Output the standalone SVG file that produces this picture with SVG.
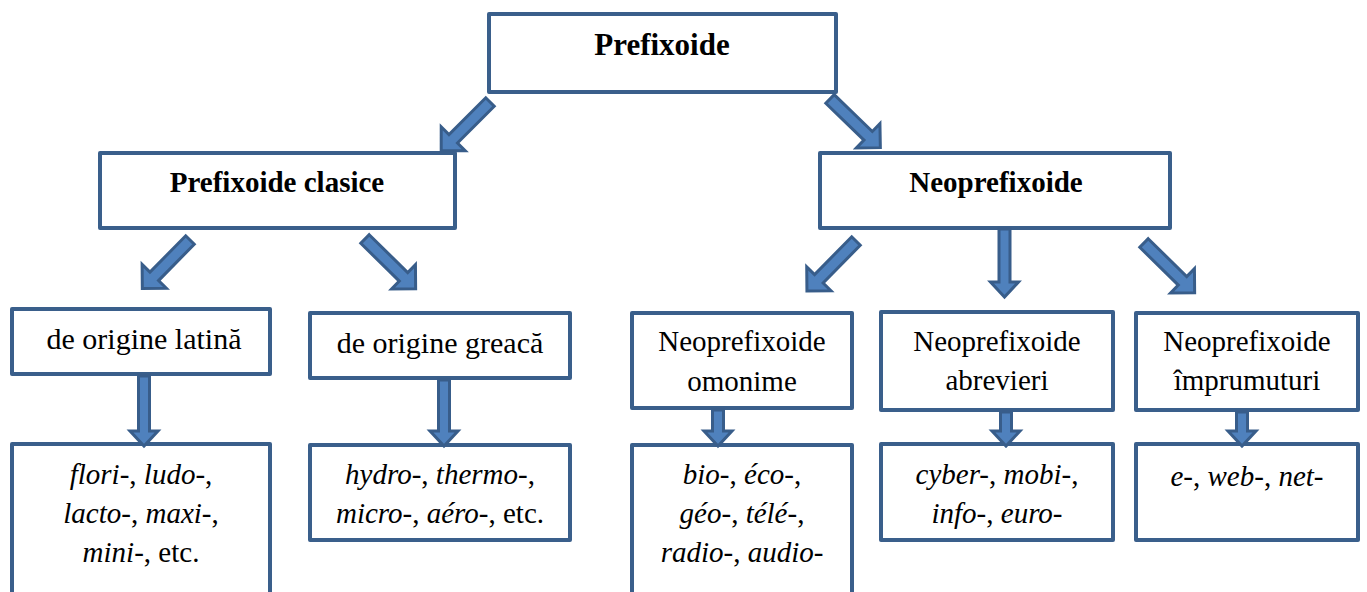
<svg xmlns="http://www.w3.org/2000/svg" width="1367" height="592" viewBox="0 0 1367 592">
<style>
.box{fill:#fff;stroke:#3A5F8B;stroke-width:4;stroke-linejoin:round}
.arr{fill:#4F81BD;stroke:#385D8A;stroke-width:3;stroke-linejoin:miter}
text{font-family:"Liberation Serif","Times New Roman",serif;font-size:29px;fill:#000;text-anchor:middle}
.b{font-weight:bold}
.i{font-style:italic}
.big{font-size:31px}
.m{font-size:30px}
</style>
<rect width="1367" height="592" fill="#fff"/>
<g id="n-prefixoide"><rect class="box" x="489" y="14" width="347" height="78"/><text class="b big" x="662" y="55">Prefixoide</text></g>
<g id="n-clasice"><rect class="box" x="100" y="153" width="355" height="75"/><text class="b" x="277" y="192">Prefixoide clasice</text></g>
<g id="n-neo"><rect class="box" x="820" y="153" width="350" height="75"/><text class="b" x="996" y="192">Neoprefixoide</text></g>
<g id="n-latina"><rect class="box" x="12" y="309" width="258" height="65"/><text class="m" x="144" y="349">de origine latină</text></g>
<g id="n-greaca"><rect class="box" x="310" y="313" width="260" height="65"/><text class="m" x="440" y="353">de origine greacă</text></g>
<g id="n-omonime"><rect class="box" x="632" y="313" width="220" height="95"/><text x="742" y="351">Neoprefixoide</text><text x="742" y="391">omonime</text></g>
<g id="n-abrevieri"><rect class="box" x="881" y="312" width="232" height="98"/><text x="997" y="351">Neoprefixoide</text><text x="997" y="390">abrevieri</text></g>
<g id="n-imprumuturi"><rect class="box" x="1136" y="313" width="222" height="97"/><text x="1247" y="351">Neoprefixoide</text><text x="1247" y="390">împrumuturi</text></g>
<g id="n-flori"><rect class="box" x="12" y="444" width="258" height="160"/><text x="141" y="484"><tspan class="i">flori-</tspan>, <tspan class="i">ludo-</tspan>,</text><text x="141" y="523"><tspan class="i">lacto-</tspan>, <tspan class="i">maxi-</tspan>,</text><text x="141" y="562"><tspan class="i">mini-</tspan>, etc.</text></g>
<g id="n-hydro"><rect class="box" x="310" y="445" width="260" height="95"/><text x="440" y="484"><tspan class="i">hydro-</tspan>, <tspan class="i">thermo-</tspan>,</text><text x="440" y="523"><tspan class="i">micro-</tspan>, <tspan class="i">aéro-</tspan>, etc.</text></g>
<g id="n-bio"><rect class="box" x="632" y="445" width="220" height="160"/><text x="742" y="484"><tspan class="i">bio-</tspan>, <tspan class="i">éco-</tspan>,</text><text x="742" y="523"><tspan class="i">géo-</tspan>, <tspan class="i">télé-</tspan>,</text><text x="742" y="562"><tspan class="i">radio-</tspan>, <tspan class="i">audio-</tspan></text></g>
<g id="n-cyber"><rect class="box" x="881" y="444" width="232" height="96"/><text x="997" y="484"><tspan class="i">cyber-</tspan>, <tspan class="i">mobi-</tspan>,</text><text x="997" y="523"><tspan class="i">info-</tspan>, <tspan class="i">euro-</tspan></text></g>
<g id="n-e"><rect class="box" x="1136" y="444" width="222" height="96"/><text x="1247" y="486"><tspan class="i">e-</tspan>, <tspan class="i">web-</tspan>, <tspan class="i">net-</tspan></text></g>
<g id="connectors">
<path class="arr" transform="translate(490,102) rotate(135)" d="M0,-6H52V-17L69,0L52,17V6H0Z"/>
<path class="arr" transform="translate(830,99) rotate(44)" d="M0,-6H53V-17L70,0L53,17V6H0Z"/>
<path class="arr" transform="translate(190,240) rotate(134.5)" d="M0,-6H51V-17L68,0L51,17V6H0Z"/>
<path class="arr" transform="translate(365,239) rotate(44.5)" d="M0,-6H54V-17L71,0L54,17V6H0Z"/>
<path class="arr" transform="translate(856,241) rotate(134.5)" d="M0,-6H53V-17L70,0L53,17V6H0Z"/>
<path class="arr" transform="translate(1144,243) rotate(44.5)" d="M0,-6H54V-17L71,0L54,17V6H0Z"/>
<path class="arr" d="M999,229V282H990.5L1004.5,297L1018.5,282H1010V229Z"/>
<path class="arr" d="M138.5,376V431H130L144,446L158,431H149.5V376Z"/>
<path class="arr" d="M438.5,380V431H430L444,446L458,431H449.5V380Z"/>
<path class="arr" d="M712.5,410V431H704L718,446L732,431H723.5V410Z"/>
<path class="arr" d="M1000.5,412V431H992L1006,446L1020,431H1011.5V412Z"/>
<path class="arr" d="M1236.5,412V431H1228L1242,446L1256,431H1247.5V412Z"/>
</g>
</svg>
